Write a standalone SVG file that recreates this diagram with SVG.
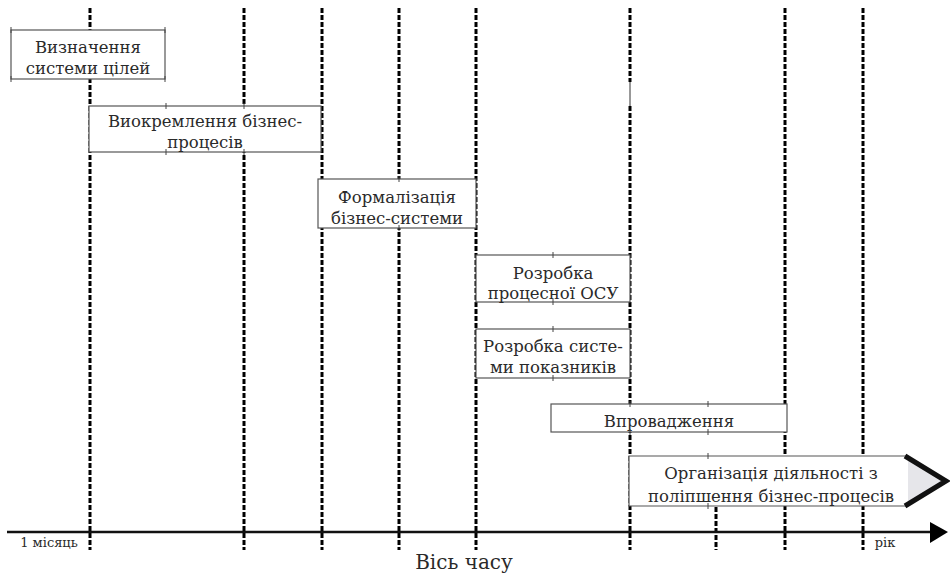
<svg xmlns="http://www.w3.org/2000/svg" width="950" height="573" viewBox="0 0 950 573">
<style>
.grid line{stroke:#000;stroke-width:3;stroke-dasharray:5 2}
.box{fill:#fff;stroke:#555;stroke-width:1.2}
.tick line{stroke:#444;stroke-width:1}
text{font-family:'DejaVu Serif',serif;fill:#2a2a2a;text-anchor:middle}
.lbl{font-size:16.5px}
.ax{font-size:13px}
</style>
<rect width="950" height="573" fill="#fff"/>
<g id="connectors">
<g class="grid">
<line x1="90" y1="8" x2="90" y2="550"/>
<line x1="244" y1="8" x2="244" y2="550"/>
<line x1="322" y1="8" x2="322" y2="550"/>
<line x1="399" y1="8" x2="399" y2="550"/>
<line x1="476" y1="8" x2="476" y2="550"/>
<line x1="630" y1="8" x2="630" y2="82"/>
<line x1="630" y1="106" x2="630" y2="550"/>
<line x1="716" y1="507" x2="716" y2="550"/>
<line x1="785" y1="8" x2="785" y2="550"/>
<line x1="863" y1="8" x2="863" y2="550"/>
</g>
<line x1="630" y1="82" x2="630" y2="106" stroke="#333" stroke-width="1"/>
<line x1="7" y1="532" x2="938" y2="532" stroke="#111" stroke-width="2.5"/>
<path d="M930,522 L948,532 L930,543 Z" fill="#000"/>
</g>
<g id="n1">
<rect class="box" x="11" y="30" width="154" height="49"/>
<text class="lbl" x="88" y="53">Визначення</text>
<text class="lbl" x="88" y="74">системи цілей</text>
</g>
<g id="n2">
<rect class="box" x="89" y="106" width="232" height="46"/>
<text class="lbl" x="205" y="127">Виокремлення бізнес-</text>
<text class="lbl" x="205" y="148">процесів</text>
</g>
<g id="n3">
<rect class="box" x="318" y="179" width="158" height="49"/>
<text class="lbl" x="397" y="203">Формалізація</text>
<text class="lbl" x="397" y="224">бізнес-системи</text>
</g>
<g id="n4">
<rect class="box" x="476" y="255" width="154" height="47"/>
<text class="lbl" x="553" y="279">Розробка</text>
<text class="lbl" x="553" y="299">процесної ОСУ</text>
</g>
<g id="n5">
<rect class="box" x="476" y="329" width="154" height="49"/>
<text class="lbl" x="553" y="352">Розробка систе-</text>
<text class="lbl" x="553" y="373">ми показників</text>
</g>
<g id="n6">
<rect class="box" x="551" y="404" width="236" height="28"/>
<text class="lbl" x="669" y="427">Впровадження</text>
</g>
<g id="n7">
<path d="M629,456 L907,456 L946,481 L907,506 L629,506 Z" fill="#fff"/>
<path d="M908,458 L944,481 L908,504 Z" fill="#e6e6ea"/>
<path d="M907,456 L629,456 L629,506 L907,506" fill="none" stroke="#555" stroke-width="1.2"/>
<path d="M905,456 L946,481 L905,506" fill="none" stroke="#111" stroke-width="5"/>
<text class="lbl" x="771" y="479">Організація діяльності з</text>
<text class="lbl" x="771" y="502">поліпшення бізнес-процесів</text>
</g>
<g class="tick">
<line x1="11" y1="27" x2="11" y2="33"/><line x1="165" y1="27" x2="165" y2="33"/>
<line x1="11" y1="76" x2="11" y2="82"/><line x1="165" y1="76" x2="165" y2="82"/>
<line x1="166" y1="103" x2="166" y2="109"/><line x1="166" y1="149" x2="166" y2="155"/>
<line x1="244" y1="103" x2="244" y2="109"/><line x1="244" y1="149" x2="244" y2="155"/>
<line x1="399" y1="176" x2="399" y2="182"/><line x1="399" y1="225" x2="399" y2="231"/>
<line x1="553" y1="252" x2="553" y2="258"/><line x1="553" y1="299" x2="553" y2="305"/>
<line x1="553" y1="326" x2="553" y2="332"/><line x1="553" y1="375" x2="553" y2="381"/>
<line x1="630" y1="401" x2="630" y2="407"/><line x1="630" y1="429" x2="630" y2="435"/>
<line x1="708" y1="401" x2="708" y2="407"/><line x1="708" y1="429" x2="708" y2="435"/>
<line x1="708" y1="453" x2="708" y2="459"/><line x1="708" y1="503" x2="708" y2="509"/>
</g>
<g id="axis-labels">
<text class="ax" x="49" y="547">1 місяць</text>
<text class="ax" x="885" y="547">рік</text>
<text x="464" y="569" font-size="20">Вісь часу</text>
</g>
</svg>
